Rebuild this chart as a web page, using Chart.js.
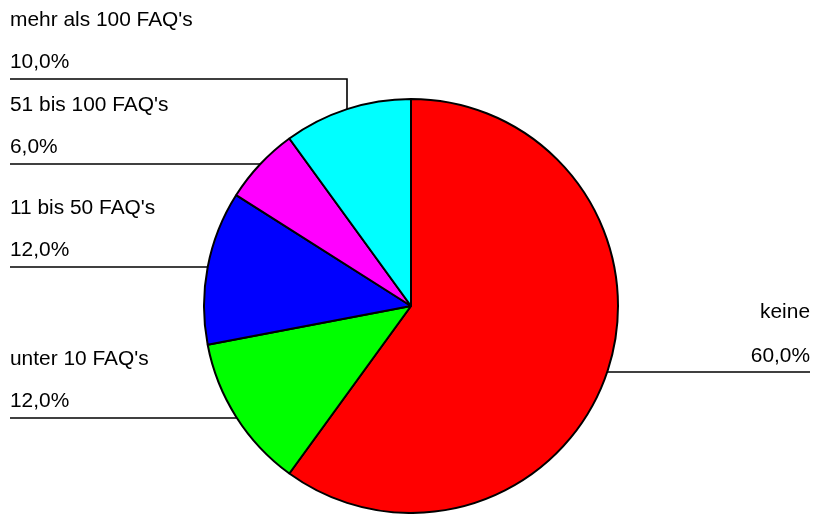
<!DOCTYPE html>
<html>
<head>
<meta charset="utf-8">
<script src="https://cdn.jsdelivr.net/npm/chart.js@4.4.0/dist/chart.umd.min.js"></script>
<style>
  html, body { margin: 0; padding: 0; background: #fff; }
  #wrap { width: 813px; height: 514px; }
</style>
</head>
<body>
<div id="wrap"><canvas id="faqChart" width="813" height="514"></canvas></div>
<script>
// Anteile der Antworten
const kategorien = ['keine', 'unter 10 FAQ\'s', '11 bis 50 FAQ\'s', '51 bis 100 FAQ\'s', 'mehr als 100 FAQ\'s'];
const anteile = [60, 12, 12, 6, 10];
const farben = ['#ff0000', '#00ff00', '#0000ff', '#ff00ff', '#00ffff'];

// Beschriftung: Linienhöhe und Seite je Segment
const labelLayout = [
  { lineY: 372, side: 'right' },
  { lineY: 418, side: 'left' },
  { lineY: 267, side: 'left' },
  { lineY: 164, side: 'left' },
  { lineY: 79, side: 'left', knickX: 347 }
];

const fmt = v => v.toFixed(1).replace('.', ',') + '%';

const labelPlugin = {
  id: 'labelPlugin',
  afterDraw(chart) {
    const ctx = chart.ctx;
    const arc = chart.getDatasetMeta(0).data[0];
    const cx = arc.x, cy = arc.y, r = arc.outerRadius;
    ctx.save();
    ctx.font = '20.9px "Liberation Sans", Arial, sans-serif';
    ctx.fillStyle = '#000';
    ctx.strokeStyle = '#000';
    ctx.lineWidth = 1.6;
    ctx.textBaseline = 'middle';
    kategorien.forEach((name, i) => {
      const l = labelLayout[i];
      const y = l.lineY;
      ctx.beginPath();
      if (l.side === 'right') {
        const xEnd = cx + Math.sqrt(r * r - (y - cy) * (y - cy));
        ctx.moveTo(810, y);
        ctx.lineTo(xEnd, y);
        ctx.textAlign = 'right';
        ctx.fillText(name, 810, y - 60);
        ctx.fillText(fmt(anteile[i]), 810, y - 16);
      } else {
        ctx.moveTo(10, y);
        if (l.knickX) {
          const yEnd = cy - Math.sqrt(r * r - (l.knickX - cx) * (l.knickX - cx));
          ctx.lineTo(l.knickX, y);
          ctx.lineTo(l.knickX, yEnd);
        } else {
          const xEnd = cx - Math.sqrt(r * r - (y - cy) * (y - cy));
          ctx.lineTo(xEnd, y);
        }
        ctx.textAlign = 'left';
        ctx.fillText(name, 10, y - 59);
        ctx.fillText(fmt(anteile[i]), 10, y - 17);
      }
      ctx.stroke();
    });
    ctx.restore();
  }
};

const ctx = document.getElementById('faqChart').getContext('2d');
new Chart(ctx, {
  type: 'pie',
  data: {
    labels: kategorien,
    datasets: [{
      data: anteile,
      backgroundColor: farben,
      borderColor: '#000',
      borderWidth: 2,
      hoverOffset: 0
    }]
  },
  options: {
    responsive: false,
    animation: false,
    layout: { padding: { top: 98, bottom: 0, left: 9, right: 0 } },
    plugins: {
      legend: { display: false },
      tooltip: { enabled: false }
    }
  },
  plugins: [labelPlugin]
});
</script>
</body>
</html>
